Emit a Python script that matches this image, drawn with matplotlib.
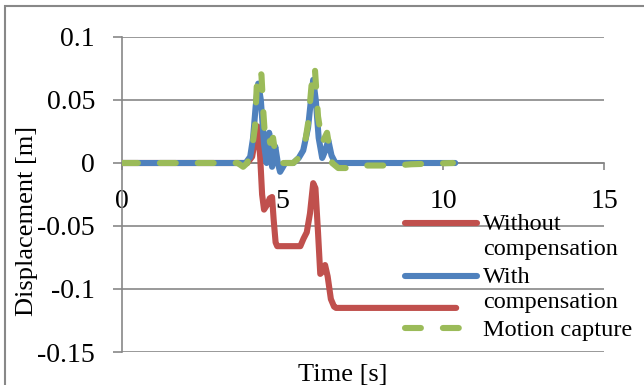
import numpy as np
import matplotlib
matplotlib.use("Agg")
import matplotlib.pyplot as plt
from matplotlib.legend_handler import HandlerLine2D
from matplotlib.patches import Rectangle

# ---- data ----
t_without = [0, 3.9, 4.05, 4.15, 4.22, 4.3, 4.36, 4.42, 4.52, 4.6, 4.67, 4.72, 4.78, 4.83,
             5.55, 5.65, 5.75, 5.85, 5.95, 6.02, 6.1, 6.17, 6.25, 6.32, 6.4, 6.5, 6.6, 6.66, 10.4]
y_without = [0, 0, 0.005, 0.02, 0.029, 0.005, -0.025, -0.037, -0.033, -0.028, -0.027, -0.045, -0.063, -0.066,
             -0.066, -0.06, -0.055, -0.04, -0.016, -0.02, -0.055, -0.088, -0.086, -0.081, -0.09, -0.108, -0.114, -0.115, -0.115]

t_with = [0, 3.85, 3.99, 4.08, 4.16, 4.24, 4.32, 4.42, 4.5, 4.58, 4.67, 4.77, 4.85, 4.92, 5.08,
          5.33, 5.5, 5.64, 5.79, 5.88, 5.95, 6.03, 6.12, 6.23, 6.33, 6.42, 6.52, 6.64, 10.37]
y_with = [0, 0, 0.005, 0.02, 0.045, 0.063, 0.05, 0.015, 0.0, 0.024, -0.003, 0.013, 0.0, -0.007, 0,
          0, 0.004, 0.01, 0.028, 0.05, 0.066, 0.05, 0.02, 0.004, 0.01, 0.018, 0.006, 0, 0]

t_mocap = [0, 3.6, 3.77, 3.9, 3.99, 4.07, 4.14, 4.2, 4.27, 4.34, 4.4, 4.45, 4.55, 4.61, 4.7, 4.78, 4.85, 4.92,
           5.33, 5.5, 5.64, 5.72, 5.8, 5.9, 6.0, 6.1, 6.23, 6.38, 6.47, 6.54, 6.73, 7.17, 7.5, 8.5, 9.0, 10.3]
y_mocap = [0, 0, -0.003, 0.0, 0.008, 0.016, 0.029, 0.065, 0.074, 0.07, 0.04, 0.021, 0.024, 0.016, 0.02, 0.006, 0.001, 0,
           0, 0.004, 0.012, 0.02, 0.033, 0.062, 0.076, 0.037, 0.016, 0.024, 0.01, 0, -0.004, -0.004, -0.002, -0.002, -0.001, 0]

series_names = ["Without\ncompensation", "With\ncompensation", "Motion capture"]
x_ticks = [0, 5, 10, 15]
x_ticklabels = ["0", "5", "10", "15"]
y_ticks = [0.1, 0.05, 0, -0.05, -0.1, -0.15]
y_ticklabels = ["0.1", "0.05", "0", "-0.05", "-0.1", "-0.15"]
x_label = "Time [s]"
y_label = "Displacement [m]"

# ---- style ----
W, H = 644, 385
plt.rcParams['font.family'] = ['Liberation Serif', 'DejaVu Serif']
fig = plt.figure(figsize=(W / 100, H / 100), dpi=100)
ax = fig.add_axes([122 / W, 1 - 352 / H, (604 - 122) / W, (352 - 37) / H])

red, blue, green = "#C0504D", "#4F81BD", "#9BBB59"
grid_c = "#878787"
lw = 4.4

l1, = ax.plot(t_without, y_without, color=red, lw=lw, solid_capstyle='round', solid_joinstyle='round', zorder=3)
l2, = ax.plot(t_with, y_with, color=blue, lw=lw, solid_capstyle='round', solid_joinstyle='round', zorder=4)
l3, = ax.plot(t_mocap, y_mocap, color=green, lw=lw, dashes=(2.6, 3.6), dash_capstyle='round',
              dash_joinstyle='round', zorder=5)

for s in ["top", "right"]:
    ax.spines[s].set_visible(False)
ax.spines["left"].set_color(grid_c)
ax.spines["left"].set_linewidth(1.2)
ax.spines["bottom"].set_position(("data", 0))
ax.spines["bottom"].set_color(grid_c)
ax.spines["bottom"].set_linewidth(1.2)

ax.set_xlim(0, 15)
ax.set_ylim(-0.15, 0.1)
ax.set_xticks(x_ticks)
ax.set_xticklabels(x_ticklabels)
ax.set_yticks(y_ticks)
ax.set_yticklabels(y_ticklabels)

ax.yaxis.grid(True, color=grid_c, lw=1.2, zorder=1)
ax.set_axisbelow(True)
ax.tick_params(axis='y', length=6.5, width=1.2, color=grid_c, pad=13, labelsize=20)
ax.tick_params(axis='x', length=5, width=1.2, color=grid_c, pad=14, labelsize=20)

ax.set_xlabel(x_label, fontsize=19)
ax.xaxis.set_label_coords((343 - 122) / 482, (352 - 375) / 315)
ax.xaxis.label.set_va('center')
ax.set_ylabel(y_label, fontsize=19)
ax.yaxis.set_label_coords((27 - 122) / 482, (352 - 221) / 315)
ax.yaxis.label.set_va('center')


class TopHandler(HandlerLine2D):
    def __init__(self, shift, **kw):
        super().__init__(**kw)
        self.shift = shift

    def create_artists(self, legend, orig_handle, xdescent, ydescent, width, height, fontsize, trans):
        arts = super().create_artists(legend, orig_handle, xdescent, ydescent, width, height, fontsize, trans)
        for a in arts:
            a.set_ydata(np.asarray(a.get_ydata(), dtype=float) + self.shift * fontsize)
        return arts


leg = ax.legend([l1, l2, l3], series_names, loc='upper left',
                bbox_to_anchor=(405 / W, 1 - 214 / H), bbox_transform=fig.transFigure,
                frameon=False, handlelength=2.95, handletextpad=0.27,
                borderpad=0, borderaxespad=0, labelspacing=0.27,
                handler_map={l1: TopHandler(0.54), l2: TopHandler(0.54)},
                prop={'size': 17.5})
for txt in leg.get_texts():
    txt.set_linespacing(1.25)
leg.set_zorder(6)

fig.add_artist(Rectangle((5 / W, -0.1), 2, 1 - 6 / H + 0.1, transform=fig.transFigure,
                         fill=False, ec="#888888", lw=1.5, clip_on=False))

fig.savefig("out.png", dpi=100)
